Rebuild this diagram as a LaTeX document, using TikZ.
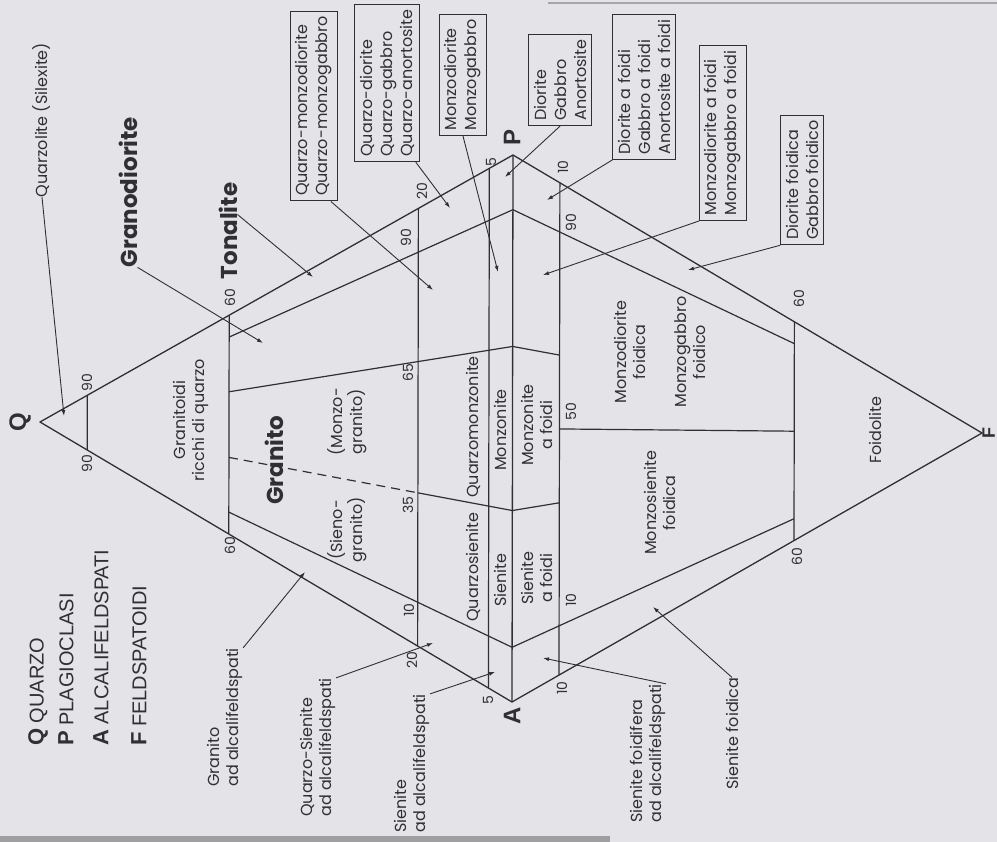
\documentclass[tikz,border=0pt]{standalone}
\usepackage{fontspec}
\setmainfont{Poppins}
\newfontfamily\arialfont{Liberation Sans}
\usetikzlibrary{arrows.meta}

\definecolor{paper}{RGB}{228,228,232}
\definecolor{ink}{RGB}{48,48,52}

\tikzset{
  trioutline/.style={ink, line width=1.3pt, line join=round},
  divider/.style={ink, line width=1.2pt},
  field/.style={ink, rotate=90, align=center, inner sep=0pt, font=\fontsize{16}{19.5}\selectfont},
  sidefield/.style={field, align=left, anchor=west},
  bigfield/.style={ink, rotate=90, inner sep=0pt, font=\fontsize{23}{26}\selectfont\bfseries},
  rockbox/.style={draw=ink, line width=1pt, ink, rotate=90, align=left, inner sep=5pt, font=\fontsize{16}{20}\selectfont},
  tickno/.style={ink, rotate=90, inner sep=0pt, font=\fontsize{14}{16}\selectfont},
  vertexname/.style={ink, rotate=90, inner sep=0pt, font=\arialfont\fontsize{24}{26}\selectfont\bfseries},
  legendrow/.style={ink, rotate=90, anchor=west, inner sep=0pt, font=\arialfont\fontsize{20}{22}\selectfont},
  pointer/.style={ink, line width=0.9pt, -{Latex[length=6pt,width=4pt]}},
}

\begin{document}
\begin{tikzpicture}[x=1pt,y=-1pt]
\fill[paper] (0,0) rectangle (997,842);
\useasboundingbox (0,0) rectangle (997,842);
\draw[gray!70, line width=1.5pt] (548,3) -- (997,3);
\fill[gray!75] (0,836) rectangle (610,842);

% vertices
\coordinate (Q) at (40,422);
\coordinate (A) at (512,702);
\coordinate (P) at (513,155);
\coordinate (F) at (982,433);

% outline
\draw[trioutline] (Q) -- (A) -- (F) -- (P) -- cycle;
\draw[trioutline] (A) -- (P);

% Q levels
\draw[divider] (barycentric cs:Q=0.9,A=0.1) -- (barycentric cs:Q=0.9,P=0.1);
\draw[divider] (barycentric cs:Q=0.6,A=0.4) -- (barycentric cs:Q=0.6,P=0.4);
\draw[divider] (barycentric cs:Q=0.2,A=0.8) -- (barycentric cs:Q=0.2,P=0.8);
\draw[divider] (barycentric cs:Q=0.05,A=0.95) -- (barycentric cs:Q=0.05,P=0.95);
% F levels
\draw[divider] (barycentric cs:F=0.1,A=0.9) -- (barycentric cs:F=0.1,P=0.9);
\draw[divider] (barycentric cs:F=0.6,A=0.4) -- (barycentric cs:F=0.6,P=0.4);

% P/(A+P) = 10
\draw[divider] (barycentric cs:Q=0.6,A=0.36,P=0.04) -- (barycentric cs:A=0.9,P=0.1) -- (barycentric cs:F=0.6,A=0.36,P=0.04);
% 35
\draw[divider, dash pattern=on 9pt off 6pt] (barycentric cs:Q=0.6,A=0.26,P=0.14) -- (barycentric cs:Q=0.2,A=0.52,P=0.28);
\draw[divider] (barycentric cs:Q=0.2,A=0.52,P=0.28) -- (barycentric cs:A=0.65,P=0.35) -- (barycentric cs:F=0.1,A=0.585,P=0.315);
% 65
\draw[divider] (barycentric cs:Q=0.6,A=0.14,P=0.26) -- (barycentric cs:A=0.35,P=0.65) -- (barycentric cs:F=0.1,A=0.315,P=0.585);
% 90
\draw[divider] (barycentric cs:Q=0.6,A=0.04,P=0.36) -- (barycentric cs:A=0.1,P=0.9) -- (barycentric cs:F=0.6,A=0.04,P=0.36);
% 50
\draw[divider] (barycentric cs:F=0.1,A=0.45,P=0.45) -- (barycentric cs:F=0.6,A=0.2,P=0.2);

% legend
\node[legendrow] (lgq) at (38,746) {{\fontsize{22}{24}\selectfont\bfseries Q} QUARZO};
\node[legendrow] (lgp) at (66,746) {{\fontsize{22}{24}\selectfont\bfseries P} PLAGIOCLASI};
\node[legendrow] (lga) at (101,746) {{\fontsize{22}{24}\selectfont\bfseries A} ALCALIFELDSPATI};
\node[legendrow] (lgf) at (139,746) {{\fontsize{22}{24}\selectfont\bfseries F} FELDSPATOIDI};

% vertex names
\node[vertexname] (nq) at (20,422) {Q};
\node[vertexname] (np) at (512,137) {P};
\node[vertexname] (na) at (512,716) {A};
\node[vertexname, font=\arialfont\fontsize{18}{20}\selectfont\bfseries, anchor=south] (nf) at (995,433) {F};

% numbers
\node[tickno] (k90a) at (87,383) {90};
\node[tickno] (k90b) at (87,464) {90};
\node[tickno] (k60a) at (230,298) {60};
\node[tickno] (k60b) at (230,546) {60};
\node[tickno] (k20a) at (422,191) {20};
\node[tickno] (k20b) at (412,660) {20};
\node[tickno] (k5a) at (491,162) {5};
\node[tickno] (k5b) at (488,700) {5};
\node[tickno] (r90a) at (406,238) {90};
\node[tickno] (r65a) at (408,373) {65};
\node[tickno] (r35a) at (408,505) {35};
\node[tickno] (r10a) at (409,610) {10};
\node[tickno] (k10a) at (563,167) {10};
\node[tickno] (r90b) at (571,223) {90};
\node[tickno] (r50b) at (571,412) {50};
\node[tickno] (r10b) at (571,600) {10};
\node[tickno] (k10b) at (562,688) {10};
\node[tickno] (k60c) at (799,299) {60};
\node[tickno] (k60d) at (797,557) {60};

% fields
\node[field] (qzl) at (42,120) {Quarzolite (Silexite)};
\node[bigfield] (gdio) at (128,192) {Granodiorite};
\node[bigfield] (tona) at (228,231) {Tonalite};
\node[bigfield] (gran) at (274,460) {Granito};
\node[field] (gric) at (191,420) {Granitoidi\\ricchi di quarzo};
\node[field] (monzg) at (347,422) {(Monzo-\\granito)};
\node[field] (sieng) at (347,530) {(Sieno-\\granito)};
\node[field] (qmz) at (473,427) {Quarzomonzonite};
\node[field] (qsi) at (473,567) {Quarzosienite};
\node[field] (mzt) at (500,430) {Monzonite};
\node[field] (sie) at (500,580) {Sienite};
\node[field] (mzf) at (537,425) {Monzonite\\a foidi};
\node[field] (sif) at (537,578) {Sienite\\a foidi};
\node[field] (mdfo) at (630,352) {Monzodiorite\\foidica};
\node[field] (mgfo) at (690,352) {Monzogabbro\\foidico};
\node[field] (msfo) at (660,503) {Monzosienite\\foidica};
\node[field] (foid) at (875,430) {Foidolite};

\node[sidefield] (gad) at (225,787) {Granito\\ad alcalifeldspati};
\node[sidefield] (qsad) at (318,817) {Quarzo-Sienite\\ad alcalifeldspati};
\node[sidefield] (sad) at (412,833) {Sienite\\ad alcalifeldspati};
\node[sidefield] (sfad) at (648,823) {Sienite foidifera\\ad alcalifeldspati};
\node[sidefield] (sfo) at (732,790) {Sienite foidica};

% boxes
\node[rockbox] (bqmd) at (314,106) {Quarzo-monzodiorite\\Quarzo-monzogabbro};
\node[rockbox] (bqd) at (387,83) {Quarzo-diorite\\Quarzo-gabbro\\Quarzo-anortosite};
\node[rockbox] (bmd) at (463,75) {Monzodiorite\\Monzogabbro};
\node[rockbox] (bdg) at (560,80) {Diorite\\Gabbro\\Anortosite};
\node[rockbox] (bdf) at (644,87) {Diorite a foidi\\Gabbro a foidi\\Anortosite a foidi};
\node[rockbox] (bmdf) at (723,133) {Monzodiorite a foidi\\Monzogabbro a foidi};
\node[rockbox] (bdfo) at (802,180) {Diorite foidica\\Gabbro foidico};

% pointer ends
\coordinate (tQz) at (64,416);
\coordinate (tGd) at (263,343);
\coordinate (tTo) at (313,277);
\coordinate (tQmd) at (433,290);
\coordinate (tQd) at (450,208);
\coordinate (tMd) at (498,272);
\coordinate (tDg) at (505,177);
\coordinate (tDf) at (547,200);
\coordinate (tMdf) at (543,275);
\coordinate (tDfo) at (688,270);
\coordinate (tGad) at (305,572);
\coordinate (tQsad) at (433,643);
\coordinate (tSad) at (495,672);
\coordinate (tSfad) at (543,658);
\coordinate (tSfo) at (653,607);

\draw[pointer] (qzl.west) -- (tQz);
\draw[pointer] (gdio.south west) -- (tGd);
\draw[pointer] (tona.-30) -- (tTo);
\draw[pointer] (bqmd.190) -- (tQmd);
\draw[pointer] (bqd.200) -- (tQd);
\draw[pointer] (bmd.west) -- (tMd);
\draw[pointer] (bdg.west) -- (tDg);
\draw[pointer] (bdf.north west) -- (tDf);
\draw[pointer] (bmdf.north west) -- (tMdf);
\draw[pointer] (bdfo.north west) -- (tDfo);
\draw[pointer] (gad.south east) -- (tGad);
\draw[pointer] (qsad.south east) -- (tQsad);
\draw[pointer] (sad.south east) -- (tSad);
\draw[pointer] (sfad.south east) -- (tSfad);
\draw[pointer] (sfo.east) -- (tSfo);
\end{tikzpicture}
\end{document}
